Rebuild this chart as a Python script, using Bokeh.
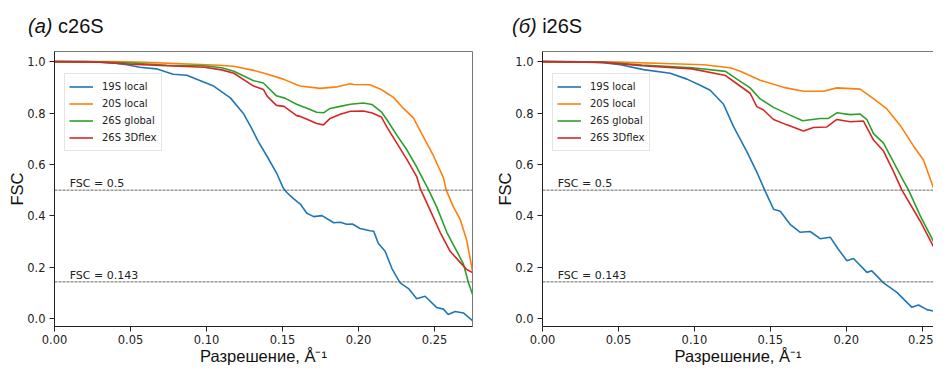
from bokeh.plotting import figure
from bokeh.models import (Span, Label, Legend, LegendItem, LinearAxis, FixedTicker,
                          NumeralTickFormatter, Range1d, Div)
from bokeh.layouts import row, column
from bokeh.embed import file_html
from bokeh.resources import INLINE

# ---------------- data ----------------
SERIES = ["19S local", "20S local", "26S global", "26S 3Dflex"]
COLORS = ["#1f77b4", "#ff7f0e", "#2ca02c", "#d62728"]
X_TICKS = [0.0, 0.05, 0.10, 0.15, 0.20, 0.25]
Y_TICKS = [0.0, 0.2, 0.4, 0.6, 0.8, 1.0]
THRESHOLDS = [0.5, 0.143]
THRESHOLD_LABELS = ["FSC = 0.5", "FSC = 0.143"]
THRESHOLD_LABEL_Y = [0.525, 0.168]

# (a) c26S
c_19s_x = [0, 0.02, 0.03, 0.04, 0.0477, 0.056, 0.067, 0.078, 0.087, 0.096, 0.1047, 0.1157, 0.1244,
           0.129, 0.134, 0.14, 0.1464, 0.1505, 0.153, 0.157, 0.1617, 0.166, 0.1705, 0.176, 0.1837,
           0.188, 0.1922, 0.196, 0.201, 0.2076, 0.21, 0.213, 0.2175, 0.222, 0.2274, 0.2329, 0.2383,
           0.2438, 0.2515, 0.2559, 0.259, 0.2636, 0.269, 0.275]
c_19s_y = [1.0, 1.0, 0.998, 0.994, 0.988, 0.978, 0.972, 0.951, 0.947, 0.926, 0.905, 0.859, 0.797,
           0.748, 0.69, 0.63, 0.563, 0.508, 0.49, 0.468, 0.446, 0.41, 0.397, 0.401, 0.373,
           0.375, 0.367, 0.368, 0.351, 0.342, 0.34, 0.293, 0.262, 0.195, 0.139, 0.117, 0.077,
           0.087, 0.043, 0.037, 0.016, 0.028, 0.022, -0.008]
c_20s_x = [0, 0.04, 0.06, 0.08, 0.096, 0.108, 0.1178, 0.131, 0.1374, 0.1505, 0.1593, 0.1617, 0.1747,
           0.186, 0.1945, 0.1968, 0.2076, 0.2142, 0.2188, 0.223, 0.2296, 0.2361, 0.2427, 0.2493,
           0.2559, 0.2577, 0.2625, 0.2669, 0.2712, 0.275]
c_20s_y = [1.0, 1.0, 0.997, 0.993, 0.989, 0.986, 0.982, 0.966, 0.956, 0.932, 0.910, 0.905, 0.896,
           0.902, 0.914, 0.911, 0.910, 0.894, 0.877, 0.861, 0.818, 0.781, 0.707, 0.634,
           0.548, 0.50, 0.434, 0.386, 0.305, 0.185]
c_glob_x = [0, 0.03, 0.05, 0.074, 0.0986, 0.11, 0.118, 0.131, 0.1374, 0.146, 0.1515, 0.1593, 0.1665,
            0.1725, 0.177, 0.1813, 0.188, 0.1947, 0.2032, 0.209, 0.215, 0.2186, 0.2252, 0.2317,
            0.2383, 0.2462, 0.2515, 0.2581, 0.2647, 0.269, 0.2724, 0.275]
c_glob_y = [1.0, 0.999, 0.995, 0.986, 0.984, 0.976, 0.963, 0.926, 0.917, 0.867, 0.858, 0.834, 0.818,
            0.803, 0.801, 0.818, 0.826, 0.834, 0.839, 0.833, 0.805, 0.775, 0.714, 0.658,
            0.590, 0.50, 0.434, 0.336, 0.262, 0.213, 0.139, 0.095]
c_flex_x = [0, 0.03, 0.05, 0.074, 0.0986, 0.11, 0.118, 0.131, 0.1374, 0.14, 0.146, 0.151, 0.1593,
            0.1617, 0.1665, 0.1725, 0.177, 0.1813, 0.188, 0.1947, 0.2032, 0.209, 0.215, 0.2186,
            0.2252, 0.2317, 0.2383, 0.2405, 0.2471, 0.2537, 0.2603, 0.2669, 0.2712, 0.275]
c_flex_y = [1.0, 0.998, 0.99, 0.984, 0.978, 0.968, 0.955, 0.905, 0.892, 0.865, 0.830, 0.826, 0.790,
            0.787, 0.775, 0.759, 0.754, 0.779, 0.795, 0.807, 0.808, 0.800, 0.785, 0.746,
            0.683, 0.621, 0.553, 0.508, 0.422, 0.336, 0.262, 0.219, 0.191, 0.179]

# (б) i26S
i_19s_x = [0, 0.03, 0.04, 0.0512, 0.0665, 0.0841, 0.0951, 0.1038, 0.1104, 0.1192, 0.1257, 0.1346,
           0.1411, 0.1466, 0.1521, 0.1565, 0.163, 0.1697, 0.1762, 0.1828, 0.1894, 0.1945, 0.2004,
           0.2047, 0.2136, 0.2168, 0.2245, 0.2333, 0.2432, 0.2475, 0.2531, 0.2585, 0.2618, 0.2677,
           0.275]
i_19s_y = [1.0, 0.999, 0.996, 0.988, 0.969, 0.955, 0.932, 0.908, 0.889, 0.834, 0.748, 0.649,
           0.570, 0.496, 0.426, 0.418, 0.367, 0.336, 0.339, 0.311, 0.317, 0.272, 0.225,
           0.234, 0.180, 0.186, 0.139, 0.102, 0.044, 0.053, 0.035, 0.028, 0.012, 0.022,
           0.02]
i_20s_x = [0, 0.05, 0.08, 0.106, 0.1236, 0.1302, 0.1433, 0.1587, 0.1718, 0.185, 0.1938, 0.2091,
           0.2179, 0.2267, 0.2355, 0.2442, 0.2508, 0.2563, 0.2596, 0.2677, 0.275]
i_20s_y = [1.0, 0.998, 0.993, 0.988, 0.976, 0.963, 0.928, 0.900, 0.885, 0.885, 0.898, 0.893,
           0.856, 0.816, 0.752, 0.672, 0.617, 0.527, 0.471, 0.354, 0.22]
i_glob_x = [0, 0.04, 0.0655, 0.0985, 0.1205, 0.128, 0.1367, 0.1433, 0.1521, 0.163, 0.1712, 0.1828,
            0.1883, 0.1938, 0.2026, 0.2091, 0.2136, 0.2179, 0.2245, 0.2311, 0.2377, 0.241, 0.2487,
            0.2596, 0.2677, 0.275]
i_glob_y = [1.0, 0.998, 0.987, 0.976, 0.962, 0.932, 0.898, 0.855, 0.822, 0.792, 0.770, 0.779,
            0.779, 0.801, 0.794, 0.796, 0.774, 0.720, 0.683, 0.609, 0.535, 0.50, 0.40,
            0.275, 0.215, 0.17]
i_flex_x = [0, 0.04, 0.0655, 0.0985, 0.1205, 0.128, 0.1367, 0.1411, 0.1455, 0.1521, 0.1609, 0.1718,
            0.1784, 0.1872, 0.1938, 0.2026, 0.2113, 0.2179, 0.2245, 0.2311, 0.2366, 0.2487, 0.2574,
            0.2677, 0.275]
i_flex_y = [1.0, 0.997, 0.984, 0.972, 0.946, 0.914, 0.877, 0.825, 0.812, 0.775, 0.754, 0.730,
            0.744, 0.746, 0.775, 0.766, 0.769, 0.695, 0.652, 0.572, 0.50, 0.379, 0.28,
            0.20, 0.16]

PANEL_TAGS = ["(a)", "(б)"]
PANEL_NAMES = ["c26S", "i26S"]
PANEL_DATA = [
    [(c_19s_x, c_19s_y), (c_20s_x, c_20s_y), (c_glob_x, c_glob_y), (c_flex_x, c_flex_y)],
    [(i_19s_x, i_19s_y), (i_20s_x, i_20s_y), (i_glob_x, i_glob_y), (i_flex_x, i_flex_y)],
]

Y_START, Y_END = -0.0306, 1.0395
TITLE_H = 40
FIG_H = 327
MB_TOP, MB_BOTTOM = 11, 40
FRAME_H = FIG_H - MB_TOP - MB_BOTTOM


def style_axis(ax):
    ax.axis_line_color = "#222222"
    ax.major_tick_line_color = "#222222"
    ax.major_tick_out = 5
    ax.major_tick_in = 0
    ax.minor_tick_line_color = None
    ax.major_label_text_font = "DejaVu Sans"
    ax.major_label_text_font_size = "11.5px"
    ax.major_label_text_color = "#222222"
    ax.major_label_standoff = 3
    ax.axis_label_text_font = "Liberation Sans"
    ax.axis_label_text_font_size = "16.5px"
    ax.axis_label_text_font_style = "normal"
    ax.axis_label_text_color = "#111111"


def make_panel(series, width, mb_left, mb_right, x_end, full_frame):
    p = figure(width=width, height=FIG_H, x_range=Range1d(0, x_end), y_range=Range1d(Y_START, Y_END),
               output_backend="svg", toolbar_location=None,
               min_border_top=MB_TOP, min_border_bottom=MB_BOTTOM,
               min_border_left=mb_left, min_border_right=mb_right,
               background_fill_color="white", border_fill_color="white")
    p.grid.visible = False

    xax = p.below[0]
    yax = p.left[0]
    style_axis(xax)
    style_axis(yax)
    yax.major_label_standoff = 4
    xax.ticker = FixedTicker(ticks=X_TICKS)
    xax.formatter = NumeralTickFormatter(format="0.00")
    yax.ticker = FixedTicker(ticks=Y_TICKS)
    yax.formatter = NumeralTickFormatter(format="0.0")
    xax.axis_label = "Разрешение, Å⁻¹"
    yax.axis_label = "FSC"
    xax.axis_label_standoff = 0
    yax.axis_label_standoff = -2

    if full_frame:
        p.outline_line_color = "#777777"
        p.outline_line_width = 1
    else:
        p.outline_line_color = None
        top = LinearAxis(ticker=FixedTicker(ticks=[]), axis_line_color="#777777",
                         major_tick_line_color=None, minor_tick_line_color=None,
                         major_tick_out=0, major_label_standoff=0,
                         major_label_text_font_size="0px")
        p.add_layout(top, "above")

    for thr, txt, ty in zip(THRESHOLDS, THRESHOLD_LABELS, THRESHOLD_LABEL_Y):
        p.add_layout(Span(location=thr, dimension="width", line_color="#555555",
                          line_dash="3 1", line_width=0.9))
        p.add_layout(Label(x=0.01, y=ty, text=txt, text_font="DejaVu Sans",
                           text_font_size="11px", text_color="#222222", text_baseline="alphabetic"))

    items = []
    for (xs, ys), lab, col in zip(series, SERIES, COLORS):
        r = p.line(xs, ys, line_color=col, line_width=1.6)
        items.append(LegendItem(label=lab, renderers=[r]))

    legend = Legend(items=items, location=(10, FRAME_H - 25 - 76), margin=0, padding=4, spacing=0,
                    glyph_width=24, glyph_height=17, label_height=17, label_standoff=9,
                    label_text_font="DejaVu Sans", label_text_font_size="10px",
                    label_text_color="#222222",
                    border_line_color="#cccccc", border_line_width=1,
                    background_fill_color="white", background_fill_alpha=0.8)
    p.add_layout(legend)
    return p


def make_title(tag, name, width, pad_left):
    return Div(text=f'<span style="font-style:italic">{tag}</span> {name}',
               width=width, height=TITLE_H, margin=0,
               styles={"font-family": "Liberation Sans, Arial, sans-serif", "font-size": "20px",
                       "color": "#111111", "padding-left": f"{pad_left}px", "padding-top": "15px",
                       "line-height": "22px", "white-space": "nowrap"})


W1, W2 = 482, 451
p1 = make_panel(PANEL_DATA[0], W1, 54, 10, 0.275, True)
p2 = make_panel(PANEL_DATA[1], W2, 60, 0, 0.2574, False)
t1 = make_title(PANEL_TAGS[0], PANEL_NAMES[0], W1, 28)
t2 = make_title(PANEL_TAGS[1], PANEL_NAMES[1], W2, 30)

layout = column(row(t1, t2, spacing=0), row(p1, p2, spacing=0), spacing=0)
open("out.html", "w").write(file_html(layout, INLINE))
